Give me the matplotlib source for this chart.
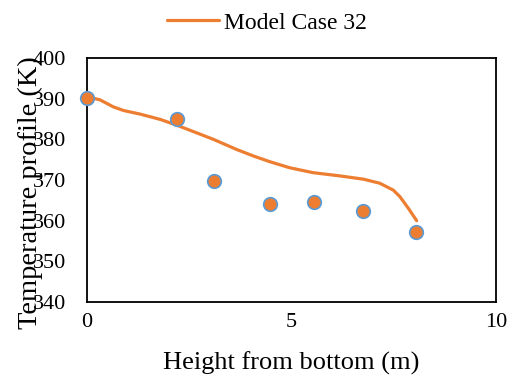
import matplotlib
matplotlib.use("Agg")
import matplotlib.pyplot as plt

# Experimental points
exp_height = [0.0, 2.19, 3.11, 4.47, 5.55, 6.76, 8.04]
exp_temp = [390.1, 385.0, 369.8, 364.0, 364.5, 362.4, 357.3]

# Model curve
model_height = [0.0, 0.32, 0.64, 0.89, 1.30, 1.79, 2.19, 2.68, 3.09, 3.66, 4.07,
                4.47, 4.96, 5.53, 6.19, 6.76, 7.16, 7.49, 7.65, 7.86, 8.06]
model_temp = [390.5, 389.7, 388.0, 387.1, 386.2, 384.9, 383.5, 381.6, 380.0, 377.5, 375.9,
              374.5, 373.0, 371.8, 371.0, 370.2, 369.2, 367.5, 365.9, 363.0, 360.0]

x_ticks = [0, 5, 10]
y_ticks = [340, 350, 360, 370, 380, 390, 400]

plt.rcParams['font.family'] = ['Liberation Serif', 'DejaVu Serif']

fig = plt.figure(figsize=(5.18, 3.81), dpi=100)
W, H = 518, 381
ax = fig.add_axes([87 / W, 1 - 302 / H, (496 - 87) / W, (302 - 58) / H])

line, = ax.plot(model_height, model_temp, color='#ED7D31', lw=2.3,
                solid_capstyle='round', label='Model Case 32', zorder=2)
ax.plot(exp_height, exp_temp, linestyle='none', marker='o', markersize=9.8,
        markerfacecolor='#ED7D31', markeredgecolor='#5B9BD5', markeredgewidth=1.2,
        clip_on=False, zorder=3)

ax.set_xlim(0, 10)
ax.set_ylim(340, 400)
ax.set_xticks(x_ticks)
ax.set_yticks(y_ticks)
ax.tick_params(length=0, labelsize=16, colors='black')
ax.tick_params(axis='x', pad=8)
ax.tick_params(axis='y', pad=15)
for s in ax.spines.values():
    s.set_linewidth(1.3)
    s.set_color('black')

ax.set_xlabel('Height from bottom (m)', fontsize=19)
ax.xaxis.set_label_coords(0.5, -(352 - 302) / 244)
ax.set_ylabel('Temperature profile (K)', fontsize=20.5)
ax.yaxis.set_label_coords((43 - 87) / (496 - 87), (302 - 193) / 244)

fig.legend(handles=[line], loc='center', bbox_to_anchor=(267 / W, 1 - 23 / H),
           frameon=False, fontsize=17, handlelength=2.2, handletextpad=0.25)

fig.savefig('out.png', dpi=100)
